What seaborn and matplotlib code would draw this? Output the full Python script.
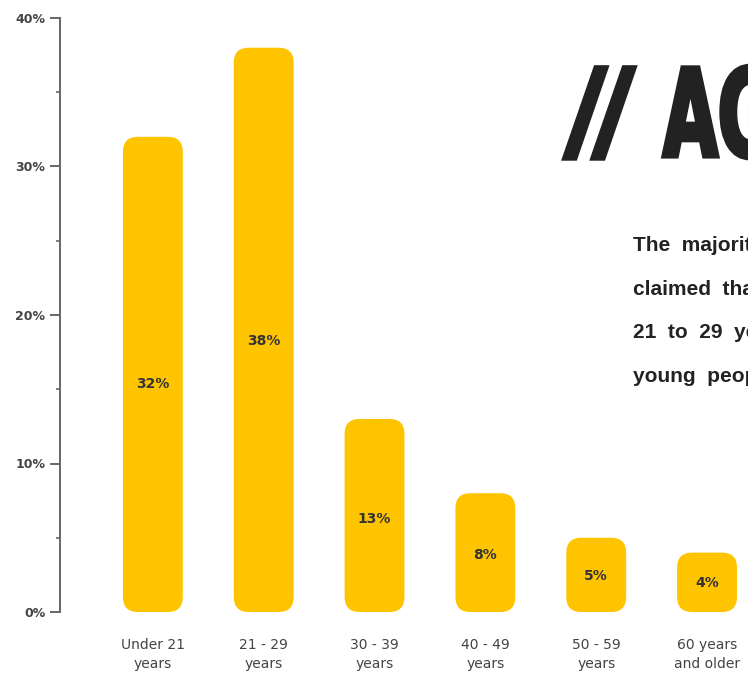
import matplotlib
matplotlib.use("Agg")
import matplotlib.pyplot as plt
import seaborn as sns
import pandas as pd
from matplotlib.patches import FancyBboxPatch
from matplotlib.patheffects import AbstractPathEffect
from matplotlib.transforms import Affine2D
from matplotlib import font_manager

# Survey data: share of respondents per age group
age_groups = ["Under 21\nyears", "21 - 29\nyears", "30 - 39\nyears",
              "40 - 49\nyears", "50 - 59\nyears", "60 years\nand older"]
shares = [32, 38, 13, 8, 5, 4]
bar_labels = ["32%", "38%", "13%", "8%", "5%", "4%"]
y_ticks = [0, 10, 20, 30, 40]
y_tick_labels = ["0%", "10%", "20%", "30%", "40%"]
y_minor_ticks = [5, 15, 25, 35]

title_mark = "//"
title_word = "AGE"
body_lines = [
    "The  majority  of  respondents",
    "claimed  that  they  were  aged",
    "21  to  29  years  old,  meaning",
    "young  people  lead  the  way.",
]

BAR_COLOR = "#FFC400"
INK = "#222222"

installed = {f.name for f in font_manager.fontManager.ttflist}
body_font = "Liberation Sans" if "Liberation Sans" in installed else "DejaVu Sans"

sns.set_theme(style="white")
plt.rcParams["font.family"] = ["DejaVu Sans"]

W, H = 748, 675
fig = plt.figure(figsize=(W / 100, H / 100), dpi=100)
fig.patch.set_facecolor("white")


class Squeeze(AbstractPathEffect):
    """Narrow (and optionally slant/embolden) glyphs about an anchor in pixels."""

    def __init__(self, x0, y0, sx, skew=0.0, stroke=0.0):
        super().__init__()
        self._t = (Affine2D().translate(-x0, -y0).skew_deg(skew, 0)
                   .scale(sx, 1).translate(x0, y0))
        self._stroke = stroke

    def draw_path(self, renderer, gc, tpath, affine, rgbFace=None):
        gc0 = renderer.new_gc()
        gc0.copy_properties(gc)
        if self._stroke:
            gc0.set_linewidth(self._stroke)
            gc0.set_foreground(rgbFace)
            gc0.set_joinstyle("miter")
        renderer.draw_path(gc0, tpath, affine + self._t, rgbFace)
        gc0.restore()


# axes: spine at x=60px, 0% at y=612px, 40% at y=18px
ax_left, ax_bottom, ax_top = 60, H - 612, H - 18
ax = fig.add_axes([ax_left / W, ax_bottom / H, (W - ax_left) / W, (ax_top - ax_bottom) / H])

df = pd.DataFrame({"group": age_groups, "share": shares})
sns.barplot(data=df, x="group", y="share", color=BAR_COLOR, width=0.54,
            saturation=1, ax=ax)

px_per_x = 111.0
x_left = -(153 - 60) / px_per_x
x_right = 5 + (W - 707) / px_per_x
ax.set_xlim(x_left, x_right)
ax.set_ylim(0, 40)

px_per_y = (ax_top - ax_bottom) / 40.0
radius_px = 15
r_x = radius_px / px_per_x
aspect = (radius_px / px_per_y) / r_x

# swap plain rectangles for rounded bars
for patch in list(ax.patches):
    x0, y0 = patch.get_x(), patch.get_y()
    w, h = patch.get_width(), patch.get_height()
    patch.remove()
    ax.add_patch(FancyBboxPatch((x0, y0), w, h,
                                boxstyle=f"round,pad=0,rounding_size={r_x}",
                                mutation_aspect=aspect,
                                facecolor=BAR_COLOR, edgecolor="none",
                                clip_on=False))

# value labels just below mid-height of each bar
for i, (v, lab) in enumerate(zip(shares, bar_labels)):
    ax.text(i, v * 0.48, lab, ha="center", va="center",
            fontsize=10, fontweight="bold", color="#333333")

# axis styling
for side in ["top", "right", "bottom"]:
    ax.spines[side].set_visible(False)
ax.spines["left"].set_color("#666666")
ax.spines["left"].set_linewidth(1.4)
ax.set_yticks(y_ticks)
ax.set_yticklabels(y_tick_labels, fontsize=9, fontweight="bold", color="#444444")
ax.set_yticks(y_minor_ticks, minor=True)
ax.tick_params(axis="y", which="major", left=True, length=7, width=1.4,
               color="#666666", pad=3.5)
ax.tick_params(axis="y", which="minor", left=True, length=3, width=1.2,
               color="#666666")
ax.tick_params(axis="x", bottom=False, length=0, pad=19)
for lbl in ax.get_xticklabels():
    lbl.set_fontsize(10)
    lbl.set_color("#444444")
    lbl.set_linespacing(1.4)
ax.set_xlabel("")
ax.set_ylabel("")

# heading: tall, narrow, heavy letters
base_y = H - 156.5
fig.text(563 / W, base_y / H, title_mark, ha="left", va="baseline",
         fontsize=89, fontweight="bold", color=INK, family=[body_font],
         path_effects=[Squeeze(563, base_y, 0.82, skew=13, stroke=2.5)])
fig.text(663 / W, base_y / H, title_word, ha="left", va="baseline",
         fontsize=88, fontweight="bold", color=INK, family=["DejaVu Sans"],
         path_effects=[Squeeze(663, base_y, 0.58, stroke=3)])

# side note
for k, line in enumerate(body_lines):
    fig.text(633 / W, 1 - (251 + 43.7 * k) / H, line, ha="left", va="baseline",
             fontsize=15, fontweight="bold", color=INK, family=[body_font])

fig.savefig("out.png", dpi=100, facecolor="white")
